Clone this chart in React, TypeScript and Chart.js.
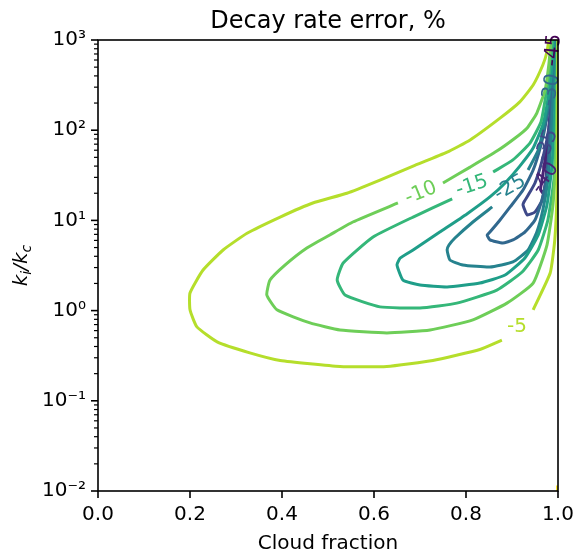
import React, { useEffect, useRef } from 'react';
import { Chart, registerables } from 'chart.js';

Chart.register(...registerables);

// Contour levels (decay rate error, %) and their viridis colours
const levels = [-45, -40, -35, -30, -25, -20, -15, -10, -5, 0];
const levelColors = ['#440154', '#482475', '#3e4989', '#31688e', '#26828e', '#1f9e89', '#35b779', '#6ece58', '#b5de2b', '#fde725'];

// Each contour: [cloud fraction, ki/kc]; null = break where the inline label sits
type P = [number, number] | null;

const contourM5: P[] = [
  [0.980, 1000], [0.976, 736], [0.967, 528], [0.946, 317], [0.917, 206], [0.874, 136], [0.809, 78], [0.759, 57],
  [0.685, 40], [0.613, 28], [0.541, 20], [0.467, 15.6], [0.396, 10.9], [0.324, 7.2], [0.272, 4.7], [0.228, 2.8],
  [0.200, 1.57], [0.200, 1.02], [0.215, 0.66], [0.259, 0.45], [0.330, 0.34], [0.396, 0.28], [0.526, 0.24],
  [0.628, 0.24], [0.728, 0.28], [0.830, 0.37], [0.878, 0.47], null,
  [0.946, 1.02], [0.983, 2.61], [0.993, 6.07], [0.998, 21.7], [0.9995, 130], [1.0, 1000],
];

const contourM10: P[] = [
  [0.985, 1000], [0.980, 528], [0.972, 279], [0.954, 155], [0.933, 106], [0.907, 82], [0.867, 58.7], [0.809, 39],
  [0.750, 26], null,
  [0.652, 15.6], [0.554, 9.6], [0.504, 6.9], [0.454, 4.94], [0.407, 3.21], [0.374, 2.18], [0.367, 1.49],
  [0.389, 1.02], [0.461, 0.73], [0.526, 0.61], [0.628, 0.565], [0.722, 0.61], [0.815, 0.79], [0.889, 1.21],
  [0.946, 2.02], [0.976, 5.33], [0.989, 14.8], [0.996, 60], [0.998, 216], [0.9995, 1000],
];

const contourM15: P[] = [
  [0.988, 1000], [0.982, 464], [0.972, 216], [0.963, 123], [0.939, 72], [0.902, 46.8], [0.859, 34.4], null,
  [0.770, 17.3], [0.685, 10.9], [0.598, 6.55], [0.533, 3.37], [0.520, 2.18], [0.537, 1.49], [0.613, 1.10],
  [0.700, 1.07], [0.780, 1.21], [0.867, 1.69], [0.922, 2.68], [0.957, 4.70], [0.978, 10.1], [0.991, 28],
  [0.996, 100], [0.998, 360], [0.999, 1000],
];

const contourM20: P[] = [
  [0.990, 1000], [0.985, 409], [0.976, 190], [0.967, 114], [0.946, 63.5], [0.917, 40], [0.885, 26], [0.852, 18.2],
  [0.802, 11.8], [0.743, 7.43], [0.685, 4.7], [0.657, 3.83], [0.650, 3.21], [0.663, 2.18], [0.700, 1.92],
  [0.759, 1.83], [0.830, 2.02], [0.885, 2.48], [0.928, 3.83], [0.957, 6.9], [0.976, 14.8], [0.987, 41],
  [0.993, 167], [0.9985, 1000],
];

const contourM25: P[] = [
  [0.991, 1000], [0.987, 464], [0.980, 216], [0.970, 114], [0.957, 60], [0.935, 36.2], null,
  [0.857, 14.1], [0.815, 9.6], [0.776, 6.38], [0.763, 5.33], [0.759, 4.7], [0.765, 3.64], [0.793, 3.21],
  [0.852, 3.04], [0.902, 3.46], [0.935, 4.7], [0.954, 7.43], [0.967, 13.0], [0.978, 28], [0.985, 78],
  [0.989, 216], [0.998, 1000],
];

const contourM30: P[] = [
  [0.992, 1000], [0.989, 500], [0.984, 260], [0.975, 130], [0.963, 68.5], [0.946, 36.2], [0.924, 21.7],
  [0.896, 14.1], [0.874, 10.1], [0.852, 7.43], [0.846, 6.9], [0.852, 6.07], [0.880, 5.61], [0.902, 6.07],
  [0.928, 7.43], [0.950, 10.1], [0.965, 16.8], [0.976, 31.8], [0.982, 78], [0.987, 216], [0.9975, 1000],
];

const contourM35: P[] = [
  [0.993, 1000], [0.990, 500], [0.986, 200], [0.978, 90], [0.965, 45], [0.950, 26], [0.935, 19], [0.926, 16],
  [0.924, 14.8], [0.933, 11.5], [0.950, 12.4], [0.965, 16.5], [0.975, 28], [0.981, 60], [0.985, 150],
  [0.997, 1000],
];

const contourM40: P[] = [
  [0.994, 1000], [0.988, 300], [0.980, 100], [0.970, 40], [0.962, 22], [0.968, 20], [0.974, 30], [0.980, 70],
  [0.986, 200], [0.9965, 1000],
];

const contourM45: P[] = [
  [0.995, 1000], [0.988, 300], [0.983, 150], [0.981, 110], [0.983, 120], [0.986, 250], [0.996, 1000],
];

const contour0: P[] = [[0.999, 0.01], [0.999, 0.0115]];

const contourLines: { level: number; points: P[] }[] = [
  { level: -5, points: contourM5 },
  { level: -10, points: contourM10 },
  { level: -15, points: contourM15 },
  { level: -20, points: contourM20 },
  { level: -25, points: contourM25 },
  { level: -30, points: contourM30 },
  { level: -35, points: contourM35 },
  { level: -40, points: contourM40 },
  { level: -45, points: contourM45 },
  { level: 0, points: contour0 },
];

// Inline contour labels
const labelLevels = [-5, -10, -15, -25, -35, -40, -30, -45];
const labelTexts = ['-5', '-10', '-15', '-25', '-35', '-40', '-30', '-45'];
const labelX = [0.911, 0.702, 0.813, 0.896, 0.976, 0.972, 0.985, 0.990];
const labelY = [0.66, 20.1, 24.1, 23.0, 68, 29.5, 279, 774];
const labelAngle = [0, -22, -18, -30, -70, -55, -80, -85];

const xTicks = [0, 0.2, 0.4, 0.6, 0.8, 1.0];
const xTickLabels = ['0.0', '0.2', '0.4', '0.6', '0.8', '1.0'];
const yTicks = [0.01, 0.1, 1, 10, 100, 1000];
const yTickLabels = ['10⁻²', '10⁻¹', '10⁰', '10¹', '10²', '10³'];

const titleText = 'Decay rate error, %';
const xLabelText = 'Cloud fraction';

const FONT = '"DejaVu Sans"';

function colorFor(level: number): string {
  return levelColors[levels.indexOf(level)];
}

export default function App() {
  const ref = useRef<HTMLCanvasElement | null>(null);

  useEffect(() => {
    const canvas = ref.current;
    if (!canvas) return;
    Chart.defaults.font.family = FONT;

    const datasets = contourLines.map((c) => {
      const data: { x: number; y: number | null }[] = [];
      c.points.forEach((p, i) => {
        if (p === null) {
          const prev = c.points[i - 1] as [number, number];
          data.push({ x: prev[0], y: null });
        } else {
          data.push({ x: p[0], y: p[1] });
        }
      });
      return {
        label: String(c.level),
        data,
        borderColor: colorFor(c.level),
        backgroundColor: colorFor(c.level),
        borderWidth: 3,
        pointRadius: 0,
        tension: 0.15,
        spanGaps: false,
        fill: false,
        borderCapStyle: 'butt' as const,
        borderJoinStyle: 'round' as const,
      };
    });

    const decorPlugin = {
      id: 'decor',
      afterDraw(chart: any) {
        const { ctx, chartArea } = chart;
        const xs = chart.scales.x;
        const ys = chart.scales.y;
        ctx.save();
        // contour labels
        ctx.textAlign = 'center';
        ctx.textBaseline = 'middle';
        ctx.font = `20px ${FONT}`;
        labelTexts.forEach((t, i) => {
          const px = xs.getPixelForValue(labelX[i]);
          const py = ys.getPixelForValue(labelY[i]);
          ctx.save();
          ctx.translate(px, py);
          ctx.rotate((labelAngle[i] * Math.PI) / 180);
          ctx.fillStyle = colorFor(labelLevels[i]);
          ctx.fillText(t, 0, 0);
          ctx.restore();
        });
        // frame
        ctx.strokeStyle = '#000';
        ctx.lineWidth = 1.6;
        ctx.strokeRect(chartArea.left, chartArea.top, chartArea.right - chartArea.left, chartArea.bottom - chartArea.top);
        // x ticks
        xTicks.forEach((v) => {
          const px = xs.getPixelForValue(v);
          ctx.beginPath();
          ctx.moveTo(px, chartArea.bottom);
          ctx.lineTo(px, chartArea.bottom + 7);
          ctx.stroke();
        });
        // y major ticks
        yTicks.forEach((v) => {
          const py = ys.getPixelForValue(v);
          ctx.beginPath();
          ctx.moveTo(chartArea.left - 7, py);
          ctx.lineTo(chartArea.left, py);
          ctx.stroke();
        });
        // y minor ticks
        ctx.lineWidth = 1.2;
        for (let e = -2; e < 3; e++) {
          for (let k = 2; k < 10; k++) {
            const py = ys.getPixelForValue(k * Math.pow(10, e));
            ctx.beginPath();
            ctx.moveTo(chartArea.left - 4, py);
            ctx.lineTo(chartArea.left, py);
            ctx.stroke();
          }
        }
        // title
        ctx.fillStyle = '#000';
        ctx.textAlign = 'center';
        ctx.textBaseline = 'alphabetic';
        const cx = (chartArea.left + chartArea.right) / 2;
        ctx.font = `24px ${FONT}`;
        ctx.fillText(titleText, cx, chartArea.top - 12);
        // x label
        ctx.font = `20px ${FONT}`;
        ctx.fillText(xLabelText, cx, 549);
        // y label k_i / k_c (italic, subscripts)
        const cy = (chartArea.top + chartArea.bottom) / 2;
        const big = `italic 20px ${FONT}`;
        const small = `italic 14px ${FONT}`;
        const parts = [
          { t: 'k', f: big, dy: 0 },
          { t: 'i', f: small, dy: 4 },
          { t: '/', f: big, dy: 0 },
          { t: 'k', f: big, dy: 0 },
          { t: 'c', f: small, dy: 4 },
        ];
        let total = 0;
        const widths = parts.map((p) => {
          ctx.font = p.f;
          const w = ctx.measureText(p.t).width;
          total += w;
          return w;
        });
        ctx.translate(27, cy);
        ctx.rotate(-Math.PI / 2);
        ctx.textAlign = 'left';
        let pos = -total / 2;
        parts.forEach((p, i) => {
          ctx.font = p.f;
          ctx.fillText(p.t, pos, p.dy);
          pos += widths[i];
        });
        ctx.restore();
      },
    };

    const chart = new Chart(canvas, {
      type: 'line',
      data: { datasets },
      options: {
        animation: false,
        responsive: false,
        devicePixelRatio: 1,
        layout: { padding: { top: 40, right: 21, left: 0, bottom: 0 } },
        plugins: { legend: { display: false }, tooltip: { enabled: false }, title: { display: false } },
        events: [],
        scales: {
          x: {
            type: 'linear',
            min: 0,
            max: 1,
            afterBuildTicks: (scale: any) => {
              scale.ticks = xTicks.map((v) => ({ value: v }));
            },
            afterFit: (scale: any) => {
              scale.height = 65;
            },
            ticks: {
              autoSkip: false,
              maxRotation: 0,
              padding: 5,
              color: '#000',
              font: { size: 20, family: FONT },
              callback: (v: any) => xTickLabels[xTicks.indexOf(Number(v))] ?? '',
            },
            grid: { display: false, drawTicks: true, tickLength: 7 },
            border: { display: false },
          },
          y: {
            type: 'logarithmic',
            min: 0.01,
            max: 1000,
            afterBuildTicks: (scale: any) => {
              scale.ticks = yTicks.map((v) => ({ value: v }));
            },
            afterFit: (scale: any) => {
              scale.width = 98;
            },
            ticks: {
              autoSkip: false,
              padding: 5,
              color: '#000',
              font: { size: 20, family: FONT },
              callback: (v: any) => {
                const i = yTicks.findIndex((t) => Math.abs(Math.log10(t) - Math.log10(Number(v))) < 1e-6);
                return i >= 0 ? yTickLabels[i] : '';
              },
            },
            grid: { display: false, drawTicks: true, tickLength: 7 },
            border: { display: false },
          },
        },
      },
      plugins: [decorPlugin],
    });

    return () => chart.destroy();
  }, []);

  return (
    <div style={{ position: 'fixed', left: 0, top: 0, width: 579, height: 556, background: '#fff' }}>
      <canvas ref={ref} width={579} height={556} style={{ display: 'block', width: 579, height: 556 }} />
    </div>
  );
}
